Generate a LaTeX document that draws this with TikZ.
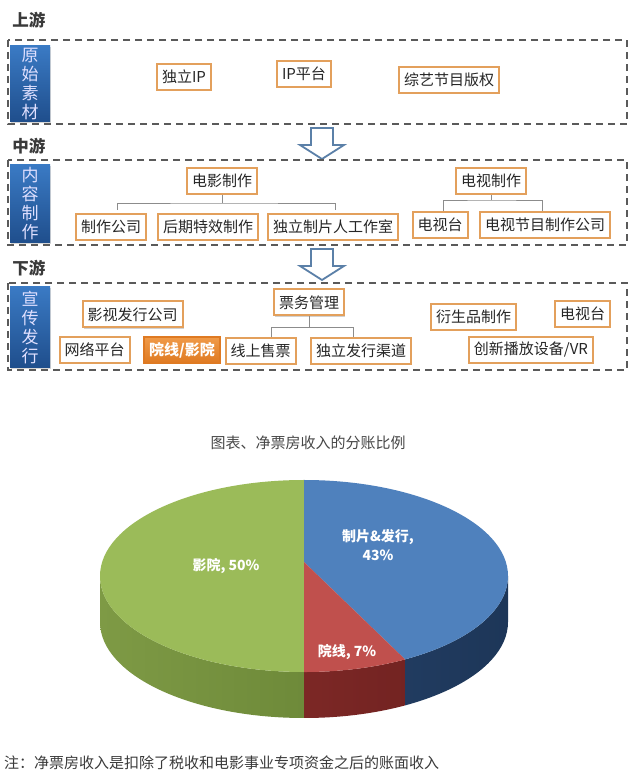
\documentclass[tikz,border=0pt]{standalone}
\usepackage{fontspec}
\setmainfont{Noto Sans CJK SC}
\usetikzlibrary{shadows}
\definecolor{boxor}{HTML}{E3A05C}
\definecolor{dashg}{HTML}{5A5A5A}
\definecolor{bluetop}{HTML}{3A7AC4}
\definecolor{bluebot}{HTML}{1F4E8C}
\definecolor{arrowc}{HTML}{5B80A8}
\definecolor{orA}{HTML}{F09A48}
\definecolor{orB}{HTML}{DF7A22}
\definecolor{pgreen}{HTML}{9BBB59}
\definecolor{pblue}{HTML}{4F81BD}
\definecolor{pred}{HTML}{C0504D}
\definecolor{sgreenA}{HTML}{7E9A45}
\definecolor{sgreenB}{HTML}{5E7A2E}
\definecolor{sredA}{HTML}{8E302D}
\definecolor{sredB}{HTML}{6A1F1E}
\definecolor{sblueA}{HTML}{2C4B77}
\definecolor{sblueB}{HTML}{1D3658}
\definecolor{titleg}{HTML}{474747}
\definecolor{darkt}{HTML}{3A3A3A}
\begin{document}
\begin{tikzpicture}[x=1pt,y=1pt,
  item/.style={draw=boxor, line width=2pt, fill=white, inner xsep=5pt, inner ysep=0pt,
    minimum height=26pt, font=\fontsize{15}{17}\selectfont, text=black!85,
    drop shadow={shadow xshift=1.2pt, shadow yshift=-1.2pt, fill=black!40, opacity=0.45}},
  hot/.style={item, draw=orB, top color=orA, bottom color=orB, text=white, font=\bfseries\fontsize{15}{17}\selectfont},
  sidelab/.style={minimum width=40pt, inner sep=0pt, top color=bluetop, bottom color=bluebot,
    text=white!88!blue, align=center, font=\fontsize{17}{19}\selectfont,
    drop shadow={shadow xshift=1.2pt, shadow yshift=-1.2pt, fill=black!40, opacity=0.4}},
  sectitle/.style={font=\bfseries\fontsize{16.5}{18}\selectfont, text=darkt, inner sep=0pt},
  dashbox/.style={draw=dashg, line width=1.8pt, dash pattern=on 7pt off 5pt},
  bracket/.style={draw=black!45, line width=0.8pt},
  hollow/.style={draw=arrowc, line width=1.8pt, fill=white, line join=miter},
  pielab/.style={text=white, font=\bfseries\fontsize{14}{19}\selectfont, align=center, inner sep=0pt}]
\useasboundingbox (0,0) rectangle (640,782);
\fill[white] (0,0) rectangle (640,782);

% ---------- section 1 ----------
\node[sectitle] (t1) at (29,762) {上游};
\draw[dashbox] (8,742) rectangle (627,658);
\node[sidelab, minimum height=76pt] (lab1) at (30,698) {原\\始\\素\\材};
\node[item] (n11) at (184,705) {独立IP};
\node[item] (n12) at (304,708) {IP平台};
\node[item] (n13) at (449,702) {综艺节目版权};

\draw[hollow] (311,654) -- (333,654) -- (333,637) -- (344,637) -- (322,623) -- (300,637) -- (311,637) -- cycle;

% ---------- section 2 ----------
\node[sectitle] (t2) at (29,636) {中游};
\draw[dashbox] (8,622) rectangle (627,537);
\node[sidelab, minimum height=78pt] (lab2) at (30,578) {内\\容\\制\\作};
\node[item] (dy) at (222,601) {电影制作};
\node[item] (ds) at (491,601) {电视制作};
\node[item] (zz) at (111,555) {制作公司};
\node[item] (hq) at (208,555) {后期特效制作};
\node[item] (dl) at (333,555) {独立制片人工作室};
\node[item] (tvt) at (440,557) {电视台};
\node[item] (tvj) at (545,557) {电视节目制作公司};

\draw[bracket] (dy.south) -- ++(0,-8) coordinate (j1);
\draw[bracket] ([xshift=6pt,yshift=3pt]zz.north) |- (j1) -| ([xshift=2pt,yshift=3pt]dl.north);
\draw[bracket] (ds.south) -- ++(0,-5) coordinate (j2);
\draw[bracket] ([xshift=3pt]tvt.north) |- (j2) -| ([xshift=-3pt]tvj.north);

\draw[hollow] (311,533) -- (333,533) -- (333,516) -- (344,516) -- (322,502) -- (300,516) -- (311,516) -- cycle;

% ---------- section 3 ----------
\node[sectitle] (t3) at (29,514) {下游};
\draw[dashbox] (8,499) rectangle (627,412);
\node[sidelab, minimum height=81pt] (lab3) at (30,454.5) {宣\\传\\发\\行};
\node[item] (pw) at (309,479.5) {票务管理};
\node[item] (ys) at (132.5,467.5) {影视发行公司};
\node[item] (wl) at (94.5,432) {网络平台};
\node[hot] (yx) at (182,432) {院线/影院};
\node[item] (xs) at (260.5,431) {线上售票};
\node[item] (df) at (361,431) {独立发行渠道};
\node[item] (ysp) at (473.5,465) {衍生品制作};
\node[item] (tv3) at (582.5,468) {电视台};
\node[item] (vr) at (531,432) {创新播放设备/VR};

\draw[bracket] (pw.south) -- ++(0,-11) coordinate (j3);
\draw[bracket] ([xshift=10.5pt]xs.north) |- (j3) -| ([xshift=-8pt]df.north);

% ---------- pie chart ----------
\node[text=titleg, font=\fontsize{15}{17}\selectfont, inner sep=0pt] (ptitle) at (308,339) {图表、净票房收入的分账比例};

% sides
\begin{scope}
  \clip (90,0) rectangle (304,300);
  \shade[left color=sgreenA, right color=sgreenB]
    (100,206) arc[start angle=180, end angle=360, x radius=204, y radius=96]
    -- ++(0,-46) arc[start angle=0, end angle=-180, x radius=204, y radius=96] -- cycle;
\end{scope}
\begin{scope}
  \clip (304,0) rectangle (405.1,300);
  \shade[left color=sredA, right color=sredB]
    (100,206) arc[start angle=180, end angle=360, x radius=204, y radius=96]
    -- ++(0,-46) arc[start angle=0, end angle=-180, x radius=204, y radius=96] -- cycle;
\end{scope}
\begin{scope}
  \clip (405.1,0) rectangle (520,300);
  \shade[left color=sblueA, right color=sblueB]
    (100,206) arc[start angle=180, end angle=360, x radius=204, y radius=96]
    -- ++(0,-46) arc[start angle=0, end angle=-180, x radius=204, y radius=96] -- cycle;
\end{scope}

% top face
\coordinate (apex) at (304,220);
\fill[pgreen] (apex) -- (304,302) arc[start angle=90, end angle=270, x radius=204, y radius=96] -- cycle;
\fill[pblue] (apex) -- (304,302) arc[start angle=90, end angle=-60.3, x radius=204, y radius=96] -- cycle;
\fill[pred] (apex) -- (405.1,122.6) arc[start angle=-60.3, end angle=-90, x radius=204, y radius=96] -- cycle;

\node[pielab] (l1) at (226,216) {影院, 50\%};
\node[pielab] (l2) at (378,237) {制片\&发行,\\43\%};
\node[pielab] (l3) at (347,130) {院线, 7\%};

% footnote
\node[anchor=west, text=darkt, font=\fontsize{15}{17}\selectfont, inner sep=0pt] (fn) at (4,19) {注：净票房收入是扣除了税收和电影事业专项资金之后的账面收入};
\end{tikzpicture}
\end{document}
